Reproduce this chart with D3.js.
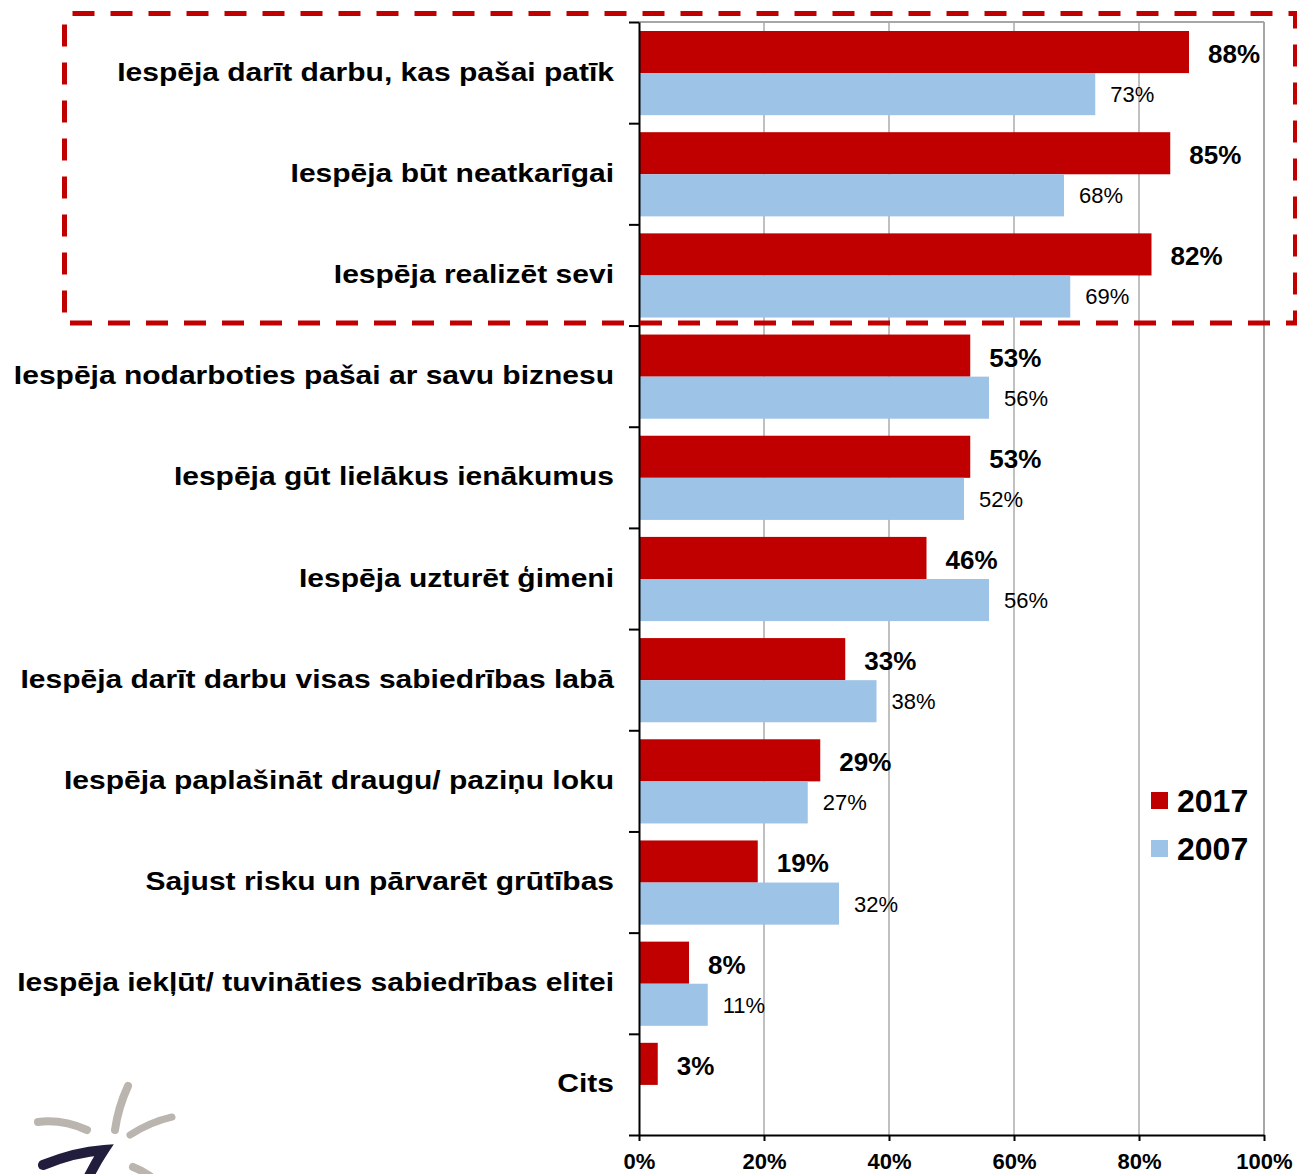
<!DOCTYPE html>
<html lang="lv">
<head>
<meta charset="utf-8">
<title>Motivācija</title>
<script src="https://cdn.jsdelivr.net/npm/d3@7"></script>
<style>
  body { margin: 0; background: #fff; }
  text { font-family: "Liberation Sans", Arial, sans-serif; fill: #000; }
  .cat { font-size: 25px; font-weight: bold; text-anchor: end; }
  .v17 { font-size: 26px; font-weight: bold; }
  .v07 { font-size: 22px; }
  .xaxis text { font-size: 22px; font-weight: bold; }
  .leg { font-size: 32px; font-weight: bold; }
</style>
</head>
<body>
<script>
// data
var categories = [
  "Iespēja darīt darbu, kas pašai patīk",
  "Iespēja būt neatkarīgai",
  "Iespēja realizēt sevi",
  "Iespēja nodarboties pašai ar savu biznesu",
  "Iespēja gūt lielākus ienākumus",
  "Iespēja uzturēt ģimeni",
  "Iespēja darīt darbu visas sabiedrības labā",
  "Iespēja paplašināt draugu/ paziņu loku",
  "Sajust risku un pārvarēt grūtības",
  "Iespēja iekļūt/ tuvināties sabiedrības elitei",
  "Cits"
];
var years = ["2017", "2007"];
var v2017 = [88, 85, 82, 53, 53, 46, 33, 29, 19, 8, 3];
var v2007 = [73, 68, 69, 56, 52, 56, 38, 27, 32, 11, null];
var xTicks = [0, 20, 40, 60, 80, 100];

var W = 1297, H = 1174;
var colors = { "2017": "#C00000", "2007": "#9DC3E6" };

var svg = d3.select("body").append("svg")
  .attr("width", W).attr("height", H);

// scales
var x = d3.scaleLinear().domain([0, 100]).range([639, 1264]);
var y = d3.scaleBand().domain(categories).range([22, 1135]);
var yIdx = d3.scaleLinear().domain([0, categories.length]).range([22, 1135]);
var sub = d3.scaleBand().domain(years).range([9, y.bandwidth() - 8]);

// grid
svg.append("g").selectAll("line")
  .data(xTicks.slice(1))
  .enter().append("line")
  .attr("x1", function(d) { return x(d); })
  .attr("x2", function(d) { return x(d); })
  .attr("y1", 22).attr("y2", 1135)
  .style("stroke", function(d) { return d == 100 ? "#A6A6A6" : "#C0C0C0"; })
  .style("stroke-width", 2);

svg.append("line")
  .attr("x1", x(0)).attr("x2", x(100))
  .attr("y1", 22).attr("y2", 22)
  .style("stroke", "#A6A6A6").style("stroke-width", 2);

// bars
var rows = categories.map(function(c, i) {
  return { cat: c, vals: [{ year: "2017", v: v2017[i] }, { year: "2007", v: v2007[i] }] };
});

var grp = svg.append("g").selectAll("g")
  .data(rows)
  .enter().append("g")
  .attr("transform", function(d) { return "translate(0," + y(d.cat) + ")"; });

grp.selectAll("rect")
  .data(function(d) { return d.vals.filter(function(e) { return e.v != null; }); })
  .enter().append("rect")
  .attr("x", x(0))
  .attr("y", function(d) { return sub(d.year); })
  .attr("width", function(d) { return x(d.v) - x(0); })
  .attr("height", sub.bandwidth())
  .style("fill", function(d) { return colors[d.year]; });

grp.selectAll("text.val")
  .data(function(d) { return d.vals.filter(function(e) { return e.v != null; }); })
  .enter().append("text")
  .attr("class", function(d) { return d.year == "2017" ? "val v17" : "val v07"; })
  .attr("x", function(d) { return x(d.v) + (d.year == "2017" ? 19 : 15); })
  .attr("y", function(d) { return sub(d.year) + sub.bandwidth() / 2 + (d.year == "2017" ? 11 : 8); })
  .text(function(d) { return d.v + "%"; });

// category labels (the source renders them wide, so stretch a little)
svg.append("g").selectAll("text")
  .data(categories)
  .enter().append("text")
  .attr("class", "cat")
  .attr("transform", function(d) {
    return "translate(614," + (y(d) + y.bandwidth() / 2 + 8) + ") scale(1.2,1)";
  })
  .text(function(d) { return d; });

// axes
var yAxis = d3.axisLeft(yIdx)
  .tickValues(d3.range(categories.length + 1))
  .tickFormat("")
  .tickSize(10)
  .tickSizeOuter(0);

svg.append("g")
  .attr("transform", "translate(" + x(0) + ",0)")
  .call(yAxis)
  .call(function(g) {
    g.selectAll("path, line").style("stroke", "#000").style("stroke-width", 2);
  });

var xAxis = d3.axisBottom(x)
  .tickValues(xTicks)
  .tickFormat(function(d) { return d + "%"; })
  .tickSize(6)
  .tickSizeOuter(0);

svg.append("g")
  .attr("class", "xaxis")
  .attr("transform", "translate(0,1135)")
  .call(xAxis)
  .call(function(g) {
    g.selectAll("path, line").style("stroke", "#000").style("stroke-width", 2);
    g.selectAll("text").attr("y", 34).attr("dy", 0);
  });

// legend
var leg = svg.append("g").selectAll("g")
  .data(years)
  .enter().append("g")
  .attr("transform", function(d, i) { return "translate(1151," + (792 + i * 48) + ")"; });

leg.append("rect")
  .attr("width", 17).attr("height", 17)
  .style("fill", function(d) { return colors[d]; });

leg.append("text")
  .attr("class", "leg")
  .attr("x", 26).attr("y", 20)
  .text(function(d) { return d; });

// dashed highlight box
svg.append("rect")
  .attr("x", 64.5).attr("y", 13.5)
  .attr("width", 1231).attr("height", 309.5)
  .style("fill", "none")
  .style("stroke", "#C00000")
  .style("stroke-width", 5)
  .style("stroke-dasharray", "22,16")
  .style("stroke-dashoffset", 30);

// logo fragment, bottom left
var logo = svg.append("g");
var strokes = [
  { d: "M38,1122 Q62,1119 87,1130", c: "#BAB5AF", w: 8 },
  { d: "M128,1086 Q118,1108 115,1130", c: "#BAB5AF", w: 8 },
  { d: "M130,1135 Q150,1122 172,1117", c: "#BAB5AF", w: 7 },
  { d: "M133,1167 Q141,1170 150,1176", c: "#BAB5AF", w: 8 },
  { d: "M43,1165 Q75,1152 104,1150 Q96,1162 88,1178", c: "#211D3C", w: 10 }
];
logo.selectAll("path")
  .data(strokes)
  .enter().append("path")
  .attr("d", function(d) { return d.d; })
  .style("fill", "none")
  .style("stroke", function(d) { return d.c; })
  .style("stroke-width", function(d) { return d.w; })
  .style("stroke-linecap", "round");
</script>
</body>
</html>
